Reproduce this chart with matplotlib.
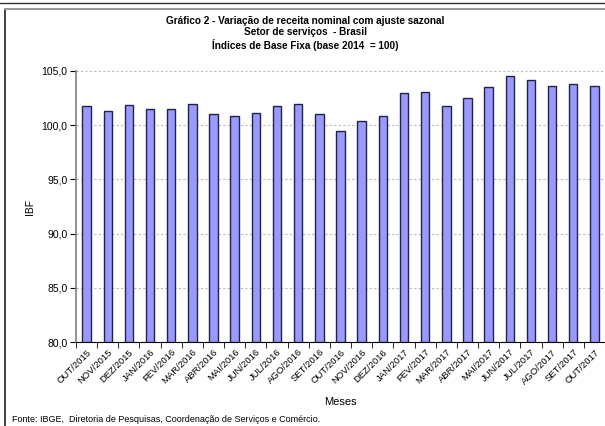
import matplotlib.pyplot as plt
from matplotlib.patches import Rectangle

plt.rcParams['font.family'] = ['Liberation Sans', 'DejaVu Sans']

# Dados (índice base 2014 = 100)
meses = ['OUT/2015', 'NOV/2015', 'DEZ/2015', 'JAN/2016', 'FEV/2016', 'MAR/2016',
         'ABR/2016', 'MAI/2016', 'JUN/2016', 'JUL/2016', 'AGO/2016', 'SET/2016',
         'OUT/2016', 'NOV/2016', 'DEZ/2016', 'JAN/2017', 'FEV/2017', 'MAR/2017',
         'ABR/2017', 'MAI/2017', 'JUN/2017', 'JUL/2017', 'AGO/2017', 'SET/2017',
         'OUT/2017']
ibf = [101.74, 101.28, 101.83, 101.46, 101.52, 101.92,
       101.01, 100.82, 101.15, 101.74, 101.92, 101.01,
       99.51, 100.38, 100.82, 102.93, 103.07, 101.74,
       102.47, 103.53, 104.57, 104.17, 103.60, 103.81,
       103.60]
y_ticks = [80, 85, 90, 95, 100, 105]

fig = plt.figure(figsize=(6.05, 4.26), dpi=100)

# moldura externa
fig.patches.append(Rectangle((5 / 605, -0.01), 1.0, 1 - 9 / 426 + 0.01,
                             transform=fig.transFigure, fill=False,
                             edgecolor='#222222', linewidth=1.2))
fig.lines.append(plt.Line2D([0, 1], [1 - 3 / 426, 1 - 3 / 426],
                            transform=fig.transFigure, color='#333333', linewidth=1))
fig.lines.append(plt.Line2D([5 / 605, 1], [1 - 9 / 426, 1 - 9 / 426],
                            transform=fig.transFigure, color='#999999', linewidth=1.5))

ax = fig.add_axes([76 / 605, 1 - 342 / 426, 529 / 605, (342 - 71) / 426])

x = list(range(len(meses)))
ax.bar(x, [v - 80 for v in ibf], bottom=80, width=0.4,
       color='#9999FF', edgecolor='#222244', linewidth=1.0, zorder=3)

ax.set_xlim(-0.5, len(meses) - 0.5)
ax.set_ylim(80, 105)
ax.set_yticks(y_ticks)
ax.set_yticklabels([f'{t:.1f}'.replace('.', ',') for t in y_ticks], fontsize=7.5)
ax.set_xticks(x)
ax.set_xticklabels(meses, rotation=45, ha='right', rotation_mode='anchor', fontsize=6.8)
ax.set_xticks([i - 0.5 for i in range(len(meses) + 1)], minor=True)
ax.tick_params(axis='x', which='major', length=0, pad=4)
ax.tick_params(axis='x', which='minor', length=4, direction='out', color='black')
ax.tick_params(axis='y', length=4, direction='out', color='black', pad=2)

ax.grid(axis='y', color='#bbbbbb', linestyle=(0, (2, 2)), linewidth=0.8, zorder=0)
for s in ['top', 'right']:
    ax.spines[s].set_visible(False)
ax.spines['left'].set_color('#808080')
ax.spines['left'].set_linewidth(1.2)
ax.spines['bottom'].set_color('black')

ax.set_ylabel('IBF', fontsize=7.5, labelpad=5)
ax.set_xlabel('Meses', fontsize=8, labelpad=8)

fig.text(305 / 605, 1 - 33.5 / 426,
         'Gráfico 2 - Variação de receita nominal com ajuste sazonal\n'
         'Setor de serviços  - Brasil\n'
         'Índices de Base Fixa (base 2014  = 100)',
         ha='center', va='center', fontsize=7.2, fontweight='bold', linespacing=1.15)

fig.text(12 / 605, 1 - 419 / 426,
         'Fonte: IBGE,  Diretoria de Pesquisas, Coordenação de Serviços e Comércio.',
         ha='left', va='center', fontsize=6.5)

fig.savefig('out.png', dpi=100)
